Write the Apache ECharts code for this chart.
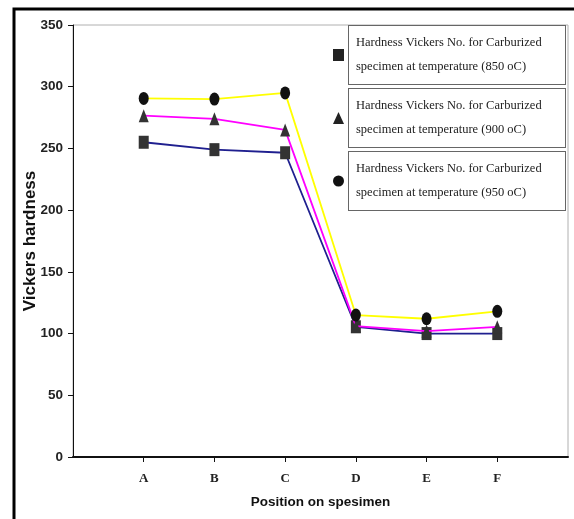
<!DOCTYPE html>
<html>
<head>
<meta charset="utf-8">
<script src="https://cdn.jsdelivr.net/npm/echarts@6/dist/echarts.min.js"></script>
<style>
html,body{margin:0;padding:0;background:#fff;}
#chart{width:574px;height:519px;}
</style>
</head>
<body>
<div id="chart"></div>
<script>
var categories = ['A', 'B', 'C', 'D', 'E', 'F'];
var seriesNames = [
  'Hardness Vickers No. for Carburized specimen at temperature (850 oC)',
  'Hardness Vickers No. for Carburized specimen at temperature (900 oC)',
  'Hardness Vickers No. for Carburized specimen at temperature (950 oC)'
];
var hv850 = [255, 249, 246.5, 105.5, 100, 100];
var hv900 = [276.5, 274, 265, 106, 102, 105.5];
var hv950 = [290.5, 290, 295, 115, 112, 118];
var yTicks = [0, 50, 100, 150, 200, 250, 300, 350];

var axisCats = [''].concat(categories, ['']);
function pad(arr) { return [null].concat(arr, [null]); }

var lineColors = ['#1f1f8f', '#ff00ff', '#ffff00'];
var symbols = ['rect', 'triangle', 'circle'];
var symColors = ['#333333', '#333333', '#111111'];
var values = [hv850, hv900, hv950];

var series = values.map(function (v, i) {
  return {
    name: seriesNames[i],
    type: 'line',
    data: pad(v),
    symbol: symbols[i],
    symbolSize: [10, 13],
    itemStyle: { color: symColors[i] },
    lineStyle: { color: lineColors[i], width: 1.8 },
    emphasis: { disabled: true },
    z: 2 + i
  };
});

var chart = echarts.init(document.getElementById('chart'), null, { renderer: 'canvas' });
chart.setOption({
  animation: false,
  backgroundColor: '#ffffff',
  grid: { left: 73, right: 6, top: 25, bottom: 62, show: true, borderColor: '#b0b0b0', borderWidth: 1 },
  xAxis: {
    type: 'category',
    data: axisCats,
    boundaryGap: false,
    name: 'Position on spesimen',
    nameLocation: 'middle',
    nameGap: 38,
    nameMoveOverlap: false,
    nameTextStyle: { fontFamily: "'Liberation Sans', Arial, sans-serif", fontWeight: 'bold', fontSize: 13.5, color: '#111' },
    axisLine: { lineStyle: { color: '#111', width: 2 } },
    axisTick: { show: true, length: 5, lineStyle: { color: '#111', width: 1 }, interval: function (idx, val) { return val !== ''; } },
    axisLabel: { fontFamily: "'Liberation Serif', 'Times New Roman', serif", fontWeight: 'bold', fontSize: 13, color: '#222', margin: 15, interval: 0 },
    splitLine: { show: false }
  },
  yAxis: {
    type: 'value',
    min: yTicks[0],
    max: yTicks[yTicks.length - 1],
    interval: 50,
    name: 'Vickers hardness',
    nameLocation: 'middle',
    nameRotate: 90,
    nameGap: 34,
    nameMoveOverlap: false,
    nameTextStyle: { fontFamily: "'Liberation Sans', Arial, sans-serif", fontWeight: 'bold', fontSize: 17, color: '#111' },
    axisLine: { show: true, lineStyle: { color: '#111', width: 1 } },
    axisTick: { show: true, length: 5, lineStyle: { color: '#111', width: 1 } },
    axisLabel: { fontFamily: "'Liberation Sans', Arial, sans-serif", fontWeight: 'bold', fontSize: 13.5, color: '#222', margin: 10 },
    splitLine: { show: false }
  },
  legend: {
    orient: 'vertical',
    left: 333,
    top: 25,
    padding: 0,
    itemGap: 3,
    itemWidth: 11,
    itemHeight: 12,
    selectedMode: false,
    data: seriesNames.map(function (n, i) {
      return { name: n, icon: symbols[i], itemStyle: { color: i === 2 ? '#111' : '#222' } };
    }),
    formatter: function (name) { return name.replace(' specimen', '\nspecimen'); },
    textStyle: {
      fontFamily: "'Liberation Serif', 'Times New Roman', serif",
      fontSize: 12.5,
      lineHeight: 24,
      color: '#222',
      borderColor: '#666',
      borderWidth: 1,
      padding: [5, 7, 5, 7],
      width: 202,
      backgroundColor: '#fff'
    }
  },
  graphic: [{
    type: 'polyline',
    shape: { points: [[14, 519], [14, 9], [574, 9]] },
    style: { stroke: '#000', lineWidth: 3, fill: null },
    silent: true
  }],
  series: series
});
</script>
</body>
</html>
